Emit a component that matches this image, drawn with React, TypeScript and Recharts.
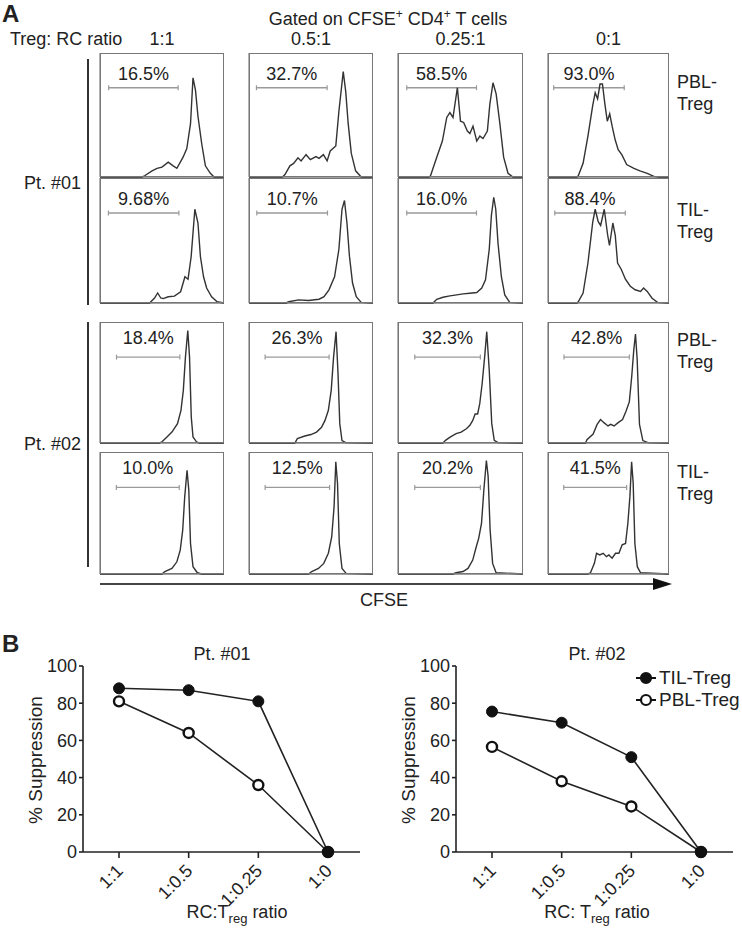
import React from 'react';
import { LineChart, Line, XAxis, YAxis, ReferenceLine } from 'recharts';

const FONT = '"Liberation Sans", Arial, Helvetica, sans-serif';

// ---- Panel A data: CFSE histograms (x = CFSE channel 0-100, y = % of max count) ----
type Pt = [number, number];

const COLUMN_RATIOS = ['1:1', '0.5:1', '0.25:1', '0:1'];
const ROW_TREG = ['PBL-\nTreg', 'TIL-\nTreg', 'PBL-\nTreg', 'TIL-\nTreg'];
const PATIENTS = ['Pt. #01', 'Pt. #02'];

const PCT_LABELS = [
  ['16.5%', '32.7%', '58.5%', '93.0%'],
  ['9.68%', '10.7%', '16.0%', '88.4%'],
  ['18.4%', '26.3%', '32.3%', '42.8%'],
  ['10.0%', '12.5%', '20.2%', '41.5%'],
];

const GATES: Pt[][] = [
  [[7, 63], [6, 63], [7, 62.8], [4.7, 63]],
  [[6.8, 63.6], [6.3, 63.3], [7, 62.8], [5.6, 63.9]],
  [[13.3, 64.4], [13, 64.6], [13.4, 65.9], [13.2, 67.2]],
  [[13.2, 63.9], [13, 65], [13.4, 65.9], [13, 65]],
];

const P1_PBL: Pt[][] = [
  [[0, 0], [34, 0], [36, 1], [42, 5], [46, 7], [50, 8], [55, 12], [59, 9], [62, 7], [67, 16], [70, 23], [73, 43], [75, 80], [77, 70], [79, 49], [82, 27], [85, 9], [89, 3], [92, 0], [100, 0]],
  [[0, 0], [27, 0], [29, 2], [33, 9], [36, 11], [39.5, 15.5], [42, 13], [46, 18], [49.5, 14], [54, 16.5], [56.5, 15], [60, 18], [63, 13], [65.5, 21], [70, 25], [72.5, 53], [76, 85], [78, 69], [80, 43], [82.5, 19], [86, 5], [90.5, 0], [100, 0]],
  [[0, 0], [25, 0], [26, 1], [31, 16], [35.5, 29], [39, 48], [41.5, 52], [44, 48], [47.5, 72], [50, 45], [52.5, 44], [55.5, 37], [57.5, 35], [60, 41], [63, 29], [65.5, 33], [68, 31], [71.5, 37], [73.5, 59], [76, 76], [78.5, 67], [81.5, 43], [84.5, 16], [88, 3], [92, 0], [100, 0]],
  [[0, 0], [24, 0], [25, 1], [29, 11], [33, 33], [37, 58], [39, 68], [41, 63], [43, 75], [45, 75], [47, 59], [49, 45], [51, 51], [53, 41], [55.5, 30], [58, 22], [61, 18], [65, 10], [71, 7], [76, 5], [82, 3], [87.5, 0.5], [92, 0], [100, 0]],
];

const P1_TIL: Pt[][] = [
  [[0, 0], [40, 0], [44, 4], [46.5, 8], [49, 4], [51, 3.5], [55, 5], [60, 5.5], [65, 9], [68.5, 21], [71, 19], [73.5, 37], [76.5, 75], [79, 64], [81, 37], [83.5, 21], [86, 12], [90, 5], [94.5, 1], [100, 0]],
  [[0, 0], [30, 0], [32, 1], [40, 2.5], [48, 2], [56.5, 3], [60.5, 5], [64.5, 10.5], [69, 21], [72.5, 43], [75, 75], [77, 82], [79, 64], [81, 37.5], [83.5, 16], [86.5, 5], [90.5, 0.5], [100, 0]],
  [[0, 0], [28, 0], [31, 3], [36, 4.6], [41.5, 5.7], [47, 6.5], [52, 7.3], [57.5, 7.8], [63, 8.4], [67, 12], [70, 18.6], [73, 43], [74.7, 70], [76.6, 84.6], [78.2, 75], [80, 48], [82.7, 21], [85.4, 6.5], [89.4, 0.5], [100, 0]],
  [[0, 0], [24, 0], [25, 1], [29, 8], [33, 32], [37, 65], [39, 75], [41.5, 65], [43.5, 62], [46.5, 75], [49.2, 55], [50.8, 46], [53.6, 64], [55.6, 54], [57.5, 32], [60.5, 27], [64, 19], [68, 13.4], [72, 10.6], [76.5, 9.3], [79, 12], [82, 9.3], [86, 3.8], [90.5, 0.5], [100, 0]],
];

const P2_PBL: Pt[][] = [
  [[0, 0], [48, 0], [50, 1], [54, 5], [58, 9], [62.5, 16], [65.3, 27], [67.2, 43.5], [68.9, 71], [70.8, 93], [72.2, 71], [73.6, 21.5], [75, 5], [77.8, 1], [80, 0], [100, 0]],
  [[0, 0], [37, 0], [39, 3.6], [45, 5.8], [50, 7], [54.5, 9], [58.5, 13], [61.3, 18.7], [64, 27], [66.3, 43.5], [68.2, 71], [70.2, 92], [71.8, 57], [73.2, 16], [75, 2], [78, 0.3], [100, 0]],
  [[0, 0], [36, 0], [38, 2.2], [42, 5], [46.5, 7.7], [50.5, 9], [54.7, 11.8], [57.5, 14.6], [59.8, 18.7], [61.7, 24], [63.7, 24], [65.4, 32.5], [67.3, 49], [69.3, 71], [71, 92], [73, 60], [75, 16], [77, 2.2], [80, 0.3], [100, 0]],
  [[0, 0], [31, 0], [32.2, 2.7], [37.3, 7.4], [40.6, 15.4], [43.4, 19.4], [46.2, 16.8], [49.6, 14.1], [51.8, 15.4], [54.6, 14.1], [58, 16.8], [61.6, 19.4], [64.4, 26], [67.2, 34], [69.2, 55], [70.9, 77], [72.3, 90], [73.7, 69], [75.6, 15.4], [78.4, 2], [82.6, 0.3], [100, 0]],
];

const P2_TIL: Pt[][] = [
  [[0, 0], [50, 0], [52.3, 2], [58, 4.6], [62, 10], [64.7, 19.6], [66.7, 36], [68.3, 63], [70.2, 85], [71.6, 69], [73, 25], [75, 6], [78.5, 1], [82, 0], [100, 0]],
  [[0, 0], [48, 0], [50.6, 2], [56, 4.6], [60.3, 8.7], [64, 17], [66.7, 30.5], [68.6, 55], [70, 92], [71.4, 74], [72.8, 25], [75, 4.6], [78.3, 0.5], [100, 0]],
  [[0, 0], [44, 0], [46.4, 1], [52, 2], [56, 4.6], [59.8, 11.4], [62.6, 22.3], [64.5, 29], [66.8, 41.4], [68.7, 69], [70.7, 93], [72.1, 80], [73.7, 36], [75.7, 8.7], [78.5, 1], [100, 0]],
  [[0, 0], [33, 0], [35.1, 1], [38.4, 9], [40.1, 17], [42.8, 15.6], [45.6, 17], [48.3, 14.2], [50.3, 15.6], [53, 12.9], [55.8, 17], [58.6, 17], [61.3, 24], [64.1, 25], [66, 41.6], [67.7, 63.6], [69.1, 92], [70.4, 74.5], [71.8, 25], [73.8, 6], [76.5, 1], [100, 0]],
];

const HIST_ROWS = [P1_PBL, P1_TIL, P2_PBL, P2_TIL];

// ---- Panel B data: % suppression ----
const RATIOS = ['1:1', '1:0.5', '1:0.25', '1:0'];
const PT01_TIL = [88, 87, 81, 0];
const PT01_PBL = [81, 64, 36, 0];
const PT02_TIL = [75.5, 69.5, 51, 0];
const PT02_PBL = [56.5, 38, 24.5, 0];
const LEGEND_ITEMS = ['TIL-Treg', 'PBL-Treg'];

// layout of the histogram grid
const COL_LEFT = [100, 249, 398, 548];
const COL_W = [124, 124, 125, 121];
const ROW_TOP = [53, 178, 322, 452];
const ROW_H = [124, 125, 121, 122];

const GateShape = (p: any) => {
  const { x1, y1, x2, y2 } = p;
  const c = '#9a9a9a';
  return (
    <g>
      <line x1={x1} y1={y1} x2={x2} y2={y2} stroke={c} strokeWidth={1.4} />
      <line x1={x1} y1={y1 - 2.5} x2={x1} y2={y1 + 2.5} stroke={c} strokeWidth={1.2} />
      <line x1={x2} y1={y2 - 2.5} x2={x2} y2={y2 + 2.5} stroke={c} strokeWidth={1.2} />
    </g>
  );
};

const Hist = ({ data, gate, pct, left, top, w, h, gateY, labelOffset }: any) => {
  const rows = data.map(([x, y]: Pt) => ({ x, y }));
  return (
    <div style={{ position: 'absolute', left: left - 4, top, width: w + 5, height: h + 4 }}>
      <LineChart width={w + 5} height={h + 4} data={rows} margin={{ top: 0, right: 1, bottom: 0, left: 0 }}>
        <XAxis
          dataKey="x"
          type="number"
          domain={[0, 100]}
          ticks={[2, 10, 22, 34, 46, 58, 70, 82, 94]}
          tick={false}
          tickSize={3}
          height={4}
          stroke="#444"
          strokeWidth={1.2}
        />
        <YAxis
          type="number"
          domain={[0, 100]}
          ticks={[0, 12.5, 25, 37.5, 50, 62.5, 75, 87.5, 100]}
          tick={false}
          tickSize={3}
          width={4}
          stroke="#666"
        />
        <ReferenceLine
          segment={[{ x: gate[0], y: gateY }, { x: gate[1], y: gateY }]}
          shape={GateShape}
          label={{ value: pct, position: 'top', offset: labelOffset, fill: '#222', fontSize: 18, fontFamily: FONT }}
        />
        <Line dataKey="y" type="linear" dot={false} stroke="#333" strokeWidth={1.4} isAnimationActive={false} />
      </LineChart>
      <div
        style={{
          position: 'absolute', left: 4, top: 0, width: w, height: h,
          border: '1px solid #777', boxSizing: 'border-box', pointerEvents: 'none',
        }}
      />
    </div>
  );
};

const RotTick = ({ x, y, payload }: any) => (
  <text
    x={x + 5}
    y={y + 12}
    transform={`rotate(-45 ${x + 5} ${y + 12})`}
    textAnchor="end"
    fontSize={18}
    fontFamily={FONT}
    fill="#222"
  >
    {payload.value}
  </text>
);

const SuppressionChart = ({ left, til, pbl, title, xLabel }: any) => {
  const data = RATIOS.map((r, i) => ({ ratio: r, til: til[i], pbl: pbl[i] }));
  return (
    <div style={{ position: 'absolute', left, top: 620, width: 370, height: 318 }}>
      <LineChart width={370} height={318} data={data} margin={{ top: 46, right: 10, bottom: 26, left: 43 }}>
        <XAxis
          dataKey="ratio"
          padding={{ left: 36, right: 32 }}
          tick={<RotTick />}
          tickSize={6}
          tickMargin={2}
          height={60}
          interval={0}
          stroke="#222"
          strokeWidth={1.6}
        />
        <YAxis
          type="number"
          domain={[0, 100]}
          ticks={[0, 20, 40, 60, 80, 100]}
          width={40}
          tickSize={4}
          tickMargin={2}
          stroke="#222"
          strokeWidth={1.6}
          tick={{ fontSize: 18, fontFamily: FONT, fill: '#222' }}
        />
        <Line
          dataKey="pbl"
          type="linear"
          stroke="#222"
          strokeWidth={1.6}
          dot={{ r: 5, fill: '#fff', stroke: '#111', strokeWidth: 2.4 }}
          isAnimationActive={false}
        />
        <Line
          dataKey="til"
          type="linear"
          stroke="#222"
          strokeWidth={1.6}
          dot={{ r: 5.5, fill: '#111', stroke: '#111', strokeWidth: 1 }}
          isAnimationActive={false}
        />
      </LineChart>
      <div style={{ position: 'absolute', left: title.cx - 100, width: 200, top: 24, textAlign: 'center', fontSize: 18 }}>
        {title.text}
      </div>
      <div style={{ position: 'absolute', left: xLabel.cx - 100, width: 200, top: 282, textAlign: 'center', fontSize: 18 }}>
        {xLabel.node}
      </div>
      <div
        style={{
          position: 'absolute', left: 36 - 100, top: 140 - 11, width: 200, textAlign: 'center',
          fontSize: 19, transform: 'rotate(-90deg)', whiteSpace: 'nowrap', lineHeight: '22px',
        }}
      >
        % Suppression
      </div>
    </div>
  );
};

const labelStyle: React.CSSProperties = { position: 'absolute', fontSize: 18, lineHeight: '22px', whiteSpace: 'pre' };

export default function App() {
  return (
    <div style={{ position: 'absolute', left: 0, top: 0, width: 742, height: 938, background: '#fff', fontFamily: FONT, color: '#222' }}>
      {/* Panel A */}
      <div style={{ position: 'absolute', left: 2, top: 2, fontSize: 24, fontWeight: 'bold', lineHeight: '24px' }}>A</div>
      <div style={{ ...labelStyle, left: 238, top: 8, width: 300, textAlign: 'center' }}>
        Gated on CFSE<span style={{ fontSize: 12, position: 'relative', top: -7 }}>+</span> CD4
        <span style={{ fontSize: 12, position: 'relative', top: -7 }}>+</span> T cells
      </div>
      <div style={{ ...labelStyle, left: 10, top: 28 }}>Treg: RC ratio</div>
      {COLUMN_RATIOS.map((c, i) => (
        <div key={c} style={{ ...labelStyle, left: COL_LEFT[i] + COL_W[i] / 2 - 50, width: 100, top: 28, textAlign: 'center' }}>
          {c}
        </div>
      ))}

      {HIST_ROWS.map((row, r) =>
        row.map((d, c) => (
          <Hist
            key={`${r}-${c}`}
            data={d}
            gate={GATES[r][c]}
            pct={PCT_LABELS[r][c]}
            left={COL_LEFT[c]}
            top={ROW_TOP[r]}
            w={COL_W[c]}
            h={ROW_H[r]}
            gateY={r < 2 ? 72 : 71}
            labelOffset={r < 2 ? 8 : 13}
          />
        ))
      )}

      {ROW_TREG.map((t, r) => (
        <div key={r} style={{ ...labelStyle, left: 677, top: [71, 199, 329, 461][r] }}>{t}</div>
      ))}

      {PATIENTS.map((p, i) => (
        <React.Fragment key={p}>
          <div style={{ ...labelStyle, left: 0, width: 81, textAlign: 'right', top: [172, 433][i] }}>{p}</div>
          <div style={{ position: 'absolute', left: 87, top: [59, 322][i], width: 2, height: [246, 245][i], background: '#333' }} />
        </React.Fragment>
      ))}

      <svg style={{ position: 'absolute', left: 0, top: 570 }} width={742} height={30}>
        <line x1={100} y1={14} x2={656} y2={14} stroke="#444" strokeWidth={2} />
        <polygon points="653,8 672,14 653,20" fill="#111" />
      </svg>
      <div style={{ ...labelStyle, left: 360, top: 589 }}>CFSE</div>

      {/* Panel B */}
      <div style={{ position: 'absolute', left: 2, top: 632, fontSize: 24, fontWeight: 'bold', lineHeight: '24px' }}>B</div>
      <SuppressionChart
        left={0}
        til={PT01_TIL}
        pbl={PT01_PBL}
        title={{ text: 'Pt. #01', cx: 222 }}
        xLabel={{ cx: 237, node: <span>RC:T<sub style={{ fontSize: 13 }}>reg</sub> ratio</span> }}
      />
      <SuppressionChart
        left={373}
        til={PT02_TIL}
        pbl={PT02_PBL}
        title={{ text: 'Pt. #02', cx: 224 }}
        xLabel={{ cx: 224, node: <span>RC: T<sub style={{ fontSize: 13 }}>reg</sub> ratio</span> }}
      />
      <div style={{ position: 'absolute', left: 636, top: 667, fontSize: 19, color: '#222' }}>
        {LEGEND_ITEMS.map((name, i) => (
          <div key={name} style={{ display: 'flex', alignItems: 'center', height: 22 }}>
            <svg width={20} height={14} style={{ marginRight: 3 }}>
              <line x1={0} y1={7} x2={20} y2={7} stroke="#111" strokeWidth={2} />
              <circle cx={10} cy={7} r={5} fill={i === 0 ? '#111' : '#fff'} stroke="#111" strokeWidth={2.2} />
            </svg>
            <span>{name}</span>
          </div>
        ))}
      </div>
    </div>
  );
}
